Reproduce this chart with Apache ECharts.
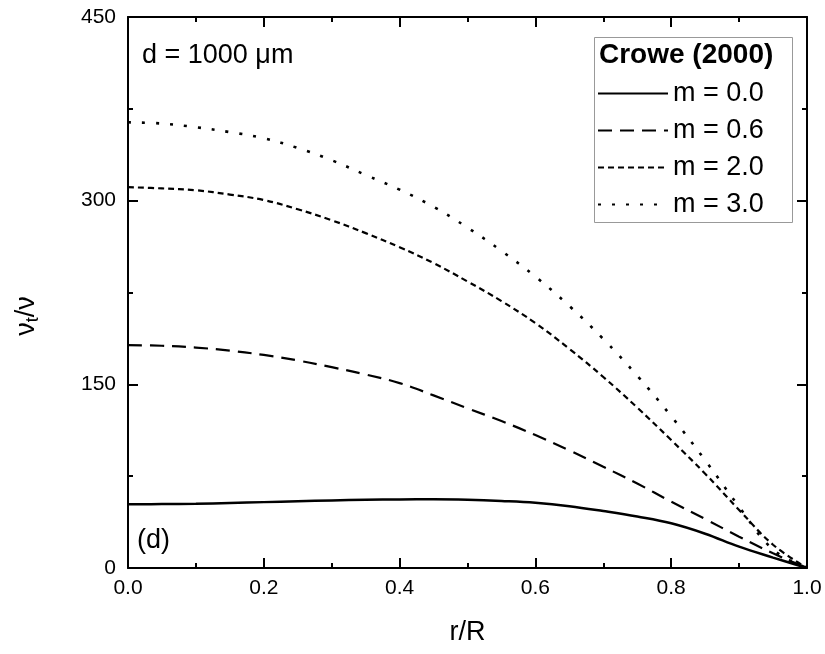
<!DOCTYPE html>
<html>
<head>
<meta charset="utf-8">
<script src="https://cdn.jsdelivr.net/npm/echarts@6/dist/echarts.min.js"></script>
<style>
  html, body { margin: 0; padding: 0; background: #fff; }
  #chart { width: 825px; height: 654px; }
</style>
</head>
<body>
<div id="chart"></div>
<script>
// Radial position r/R
const rR = [0.0, 0.05, 0.1, 0.15, 0.2, 0.25, 0.3, 0.35, 0.4, 0.45, 0.5,
            0.55, 0.6, 0.65, 0.7, 0.75, 0.8, 0.85, 0.9, 0.95, 1.0];

// Turbulent-to-molecular viscosity ratio for each mass loading m
const m00 = [52, 52.2, 52.5, 53.1, 53.8, 54.5, 55.2, 55.7, 56, 56.2, 55.8,
             54.8, 53.3, 50.5, 46.5, 42, 36.5, 28, 17.4, 8.5, 0];
const m06 = [182, 181.5, 180, 177.5, 174, 169.5, 164, 158, 151, 141, 130.4,
             120, 108.6, 96, 82.7, 69, 54.2, 40, 25.6, 12, 0];
const m20 = [311, 310, 308.5, 305, 300.5, 293, 284, 273.5, 262, 249, 234,
             218, 200, 179, 156, 131, 104.5, 77, 47.4, 19, 0];
const m30 = [364, 363, 360, 356, 351, 343, 333, 321, 309, 295, 278,
             259, 238, 214, 187, 157, 124, 88, 50, 15, 0];

const seriesNames = ['m = 0.0', 'm = 0.6', 'm = 2.0', 'm = 3.0'];
const seriesData = [m00, m06, m20, m30];
const dashes = ['solid', [14, 8], [6, 4], [3, 11]];
const widths = [2.5, 2.2, 2.2, 2.6];

const yTicks = [0, 150, 300, 450];

const FONT = '"Liberation Sans", Arial, sans-serif';

const chart = echarts.init(document.getElementById('chart'));

const baseAxis = {
  axisLine: { show: true, onZero: false, lineStyle: { color: '#000', width: 2 } },
  axisTick: { show: true, inside: true, length: 10, lineStyle: { color: '#000', width: 2 } },
  minorTick: { show: true, splitNumber: 2, length: 5, lineStyle: { color: '#000', width: 2 } },
  splitLine: { show: false },
  minorSplitLine: { show: false }
};

chart.setOption({
  backgroundColor: '#fff',
  animation: false,
  grid: { left: 128, right: 18, top: 17, bottom: 86 },
  xAxis: [
    Object.assign({}, baseAxis, {
      type: 'value', min: 0, max: 1, interval: 0.2, position: 'bottom',
      name: 'r/R', nameLocation: 'middle', nameGap: 51,
      nameTextStyle: { fontFamily: FONT, fontSize: 27, color: '#000' },
      axisLabel: { margin: 10, fontFamily: FONT, fontSize: 21, color: '#000',
                   formatter: v => v.toFixed(1) }
    }),
    Object.assign({}, baseAxis, {
      type: 'value', min: 0, max: 1, interval: 0.2, position: 'top',
      axisLabel: { show: false }
    })
  ],
  yAxis: [
    Object.assign({}, baseAxis, {
      type: 'value', min: yTicks[0], max: yTicks[yTicks.length - 1], interval: 150,
      position: 'left',
      axisLabel: { margin: 12, fontFamily: FONT, fontSize: 21, color: '#000' }
    }),
    Object.assign({}, baseAxis, {
      type: 'value', min: yTicks[0], max: yTicks[yTicks.length - 1], interval: 150,
      position: 'right',
      axisLabel: { show: false }
    })
  ],
  legend: {
    orient: 'vertical',
    left: 597, top: 80, padding: 0,
    itemWidth: 70, itemHeight: 14, itemGap: 10,
    data: seriesNames,
    itemStyle: { opacity: 0 },
    textStyle: { fontFamily: FONT, fontSize: 27, color: '#000', lineHeight: 27 }
  },
  graphic: [
    {
      type: 'rect', left: 592, top: 35, z: 100, silent: true,
      shape: { width: 198, height: 185 },
      style: { fill: 'none', stroke: '#999', lineWidth: 1 }
    },
    {
      type: 'text', left: 599, top: 41, z: 101,
      style: { text: 'Crowe (2000)', font: 'bold 28px ' + FONT, fill: '#000' }
    },
    {
      type: 'text', left: 142, top: 42, z: 101,
      style: { text: 'd = 1000 μm', font: '27px ' + FONT, fill: '#000' }
    },
    {
      type: 'text', left: 137, top: 527, z: 101,
      style: { text: '(d)', font: '27px ' + FONT, fill: '#000' }
    },
    {
      type: 'text', x: 27, y: 316, rotation: Math.PI / 2, z: 101,
      style: {
        text: '{a|ν}{b|t}{a|/ν}',
        align: 'center', verticalAlign: 'middle',
        rich: {
          a: { fontFamily: FONT, fontSize: 27, fill: '#000' },
          b: { fontFamily: FONT, fontSize: 18, fill: '#000', padding: [12, 0, 0, 0] }
        }
      }
    }
  ],
  series: seriesNames.map((name, i) => ({
    name: name,
    type: 'line',
    xAxisIndex: 0, yAxisIndex: 0,
    data: rR.map((r, k) => [r, seriesData[i][k]]),
    smooth: 0.4,
    showSymbol: false,
    symbol: 'none',
    lineStyle: { color: '#000', width: widths[i], type: dashes[i] },
    itemStyle: { color: '#000', opacity: 0 }
  }))
});
</script>
</body>
</html>
